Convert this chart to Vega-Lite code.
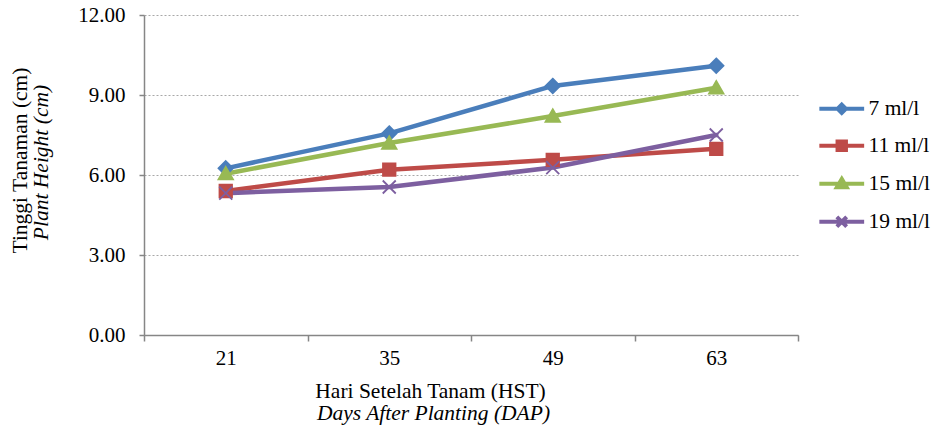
{
  "$schema": "https://vega.github.io/schema/vega-lite/v6.json",
  "width": 654,
  "height": 320,
  "autosize": {"type": "none"},
  "padding": {"left": 144, "top": 15, "right": 133, "bottom": 92},
  "background": "white",
  "config": {
    "font": "Liberation Serif",
    "view": {"stroke": null},
    "axis": {"labelFont": "Liberation Serif", "titleFont": "Liberation Serif", "labelColor": "#000", "titleColor": "#000", "titleFontWeight": "normal"},
    "legend": {"labelFont": "Liberation Serif", "labelColor": "#000"}
  },
  "data": {
    "values": [
      {"day": "21", "series": "7 ml/l", "height": 6.25},
      {"day": "35", "series": "7 ml/l", "height": 7.56},
      {"day": "49", "series": "7 ml/l", "height": 9.34},
      {"day": "63", "series": "7 ml/l", "height": 10.10},
      {"day": "21", "series": "11 ml/l", "height": 5.40},
      {"day": "35", "series": "11 ml/l", "height": 6.20},
      {"day": "49", "series": "11 ml/l", "height": 6.57},
      {"day": "63", "series": "11 ml/l", "height": 6.98},
      {"day": "21", "series": "15 ml/l", "height": 6.05},
      {"day": "35", "series": "15 ml/l", "height": 7.20},
      {"day": "49", "series": "15 ml/l", "height": 8.21},
      {"day": "63", "series": "15 ml/l", "height": 9.27},
      {"day": "21", "series": "19 ml/l", "height": 5.32},
      {"day": "35", "series": "19 ml/l", "height": 5.55},
      {"day": "49", "series": "19 ml/l", "height": 6.28},
      {"day": "63", "series": "19 ml/l", "height": 7.50}
    ]
  },
  "resolve": {
    "scale": {"color": "independent", "fill": "independent", "stroke": "independent", "shape": "independent"},
    "axis": {"x": "independent", "y": "independent"}
  },
  "layer": [
    {
      "mark": {"type": "line", "strokeWidth": 4.5, "strokeJoin": "round", "strokeCap": "round"},
      "encoding": {
        "x": {
          "field": "day", "type": "ordinal", "sort": ["21", "35", "49", "63"], "bandPosition": 0.5,
          "scale": {"type": "band", "paddingInner": 0, "paddingOuter": 0},
          "axis": {
            "orient": "bottom", "title": "Hari Setelah Tanam (HST)", "titleFontSize": 21.5,
            "titleX": 286, "titleY": 56, "titleBaseline": "middle", "titleAlign": "center",
            "labelAngle": 0, "labelFontSize": 21, "labelPadding": 6, "tickBand": "extent",
            "tickSize": 6, "tickColor": "#868686", "domainColor": "#868686", "domainWidth": 1.5, "tickWidth": 1.5, "grid": false
          }
        },
        "y": {
          "field": "height", "type": "quantitative",
          "scale": {"domain": [0, 12], "nice": false, "zero": true},
          "axis": {
            "orient": "left", "title": "Tinggi Tanaman (cm)", "titleFontSize": 21.5,
            "titleX": -124, "titleY": 145, "titleBaseline": "middle", "titleAlign": "center",
            "values": [0, 3, 6, 9, 12], "format": ".2f", "labelFontSize": 21, "tickSize": 5, "labelPadding": 14,
            "tickColor": "#868686", "domainColor": "#868686", "domainWidth": 1.5, "tickWidth": 1.5,
            "grid": true, "gridDash": [2, 2], "gridColor": "#a8a8a8", "gridWidth": 1
          }
        },
        "color": {
          "field": "series", "type": "nominal",
          "scale": {"domain": ["7 ml/l", "11 ml/l", "15 ml/l", "19 ml/l"], "range": ["#4a7ebb", "#be4b48", "#98b954", "#7d5fa0"]},
          "legend": null
        }
      }
    },
    {
      "mark": {"type": "point", "filled": true, "strokeWidth": 1.8, "opacity": 1, "size": 100},
      "encoding": {
        "x": {
          "field": "day", "type": "ordinal", "sort": ["21", "35", "49", "63"], "bandPosition": 0.5,
          "scale": {"type": "band", "paddingInner": 0, "paddingOuter": 0},
          "axis": {
            "orient": "bottom", "title": "Days After Planting (DAP)", "titleFontSize": 21.5, "titleFontStyle": "italic",
            "titleX": 289, "titleY": 78, "titleBaseline": "middle", "titleAlign": "center",
            "labels": false, "ticks": false, "domain": false, "grid": false
          }
        },
        "y": {
          "field": "height", "type": "quantitative",
          "scale": {"domain": [0, 12], "nice": false, "zero": true},
          "axis": {
            "orient": "left", "title": "Plant Height (cm)", "titleFontSize": 21.5, "titleFontStyle": "italic",
            "titleX": -103, "titleY": 147, "titleBaseline": "middle", "titleAlign": "center",
            "labels": false, "ticks": false, "domain": false, "grid": false
          }
        },
        "fill": {
          "field": "series", "type": "nominal",
          "scale": {"domain": ["7 ml/l", "11 ml/l", "15 ml/l", "19 ml/l"], "range": ["#4a7ebb", "#be4b48", "#98b954", "#7d5fa0"]},
          "legend": null
        },
        "stroke": {
          "field": "series", "type": "nominal",
          "scale": {"domain": ["7 ml/l", "11 ml/l", "15 ml/l", "19 ml/l"], "range": ["#4a7ebb", "#be4b48", "#98b954", "#7d5fa0"]},
          "legend": null
        },
        "shape": {
          "field": "series", "type": "nominal",
          "scale": {
            "domain": ["7 ml/l", "11 ml/l", "15 ml/l", "19 ml/l"],
            "range": [
              "M0,-1.45L1.45,0L0,1.45L-1.45,0Z",
              "M-1.25,-1.25L1.25,-1.25L1.25,1.25L-1.25,1.25Z",
              "M0,-1.35L1.45,1.15L-1.45,1.15Z",
              "M-1.3,-1.3L1.3,1.3M-1.3,1.3L1.3,-1.3"
            ]
          },
          "legend": null
        }
      }
    },
    {
      "mark": {"type": "point", "filled": true, "opacity": 0, "size": 10},
      "encoding": {
        "x": {"field": "day", "type": "ordinal", "sort": ["21", "35", "49", "63"], "bandPosition": 0.5, "scale": {"type": "band", "paddingInner": 0, "paddingOuter": 0}, "axis": null},
        "y": {"field": "height", "type": "quantitative", "scale": {"domain": [0, 12], "nice": false, "zero": true}, "axis": null},
        "fill": {
          "field": "series", "type": "nominal",
          "scale": {"domain": ["7 ml/l", "11 ml/l", "15 ml/l", "19 ml/l"], "range": ["#4a7ebb", "#be4b48", "#98b954", "#7d5fa0"]},
          "legend": {"orient": "none", "legendX": 687, "legendY": 83, "title": null, "labelFontSize": 21.5, "symbolSize": 196, "symbolStrokeWidth": 4, "labelOffset": 16, "rowPadding": 12, "symbolOpacity": 1, "padding": 0}
        },
        "stroke": {
          "field": "series", "type": "nominal",
          "scale": {"domain": ["7 ml/l", "11 ml/l", "15 ml/l", "19 ml/l"], "range": ["#4a7ebb", "#be4b48", "#98b954", "#7d5fa0"]},
          "legend": {"orient": "none", "legendX": 687, "legendY": 83, "title": null, "labelFontSize": 21.5, "symbolSize": 196, "symbolStrokeWidth": 4, "labelOffset": 16, "rowPadding": 12, "symbolOpacity": 1, "padding": 0}
        },
        "shape": {
          "field": "series", "type": "nominal",
          "scale": {
            "domain": ["7 ml/l", "11 ml/l", "15 ml/l", "19 ml/l"],
            "range": [
              "M-3.2,0L3.2,0M0,-0.6L0.6,0L0,0.6L-0.6,0Z",
              "M-3.2,0L3.2,0M-0.6,-0.6L0.6,-0.6L0.6,0.6L-0.6,0.6Z",
              "M-3.2,0L3.2,0M0,-0.7L0.7,0.5L-0.7,0.5Z",
              "M-3.2,0L3.2,0M-0.7,-0.7L0.7,0.7M-0.7,0.7L0.7,-0.7"
            ]
          },
          "legend": {"orient": "none", "legendX": 687, "legendY": 83, "title": null, "labelFontSize": 21.5, "symbolSize": 196, "symbolStrokeWidth": 4, "labelOffset": 16, "rowPadding": 12, "symbolOpacity": 1, "padding": 0}
        }
      }
    }
  ]
}
